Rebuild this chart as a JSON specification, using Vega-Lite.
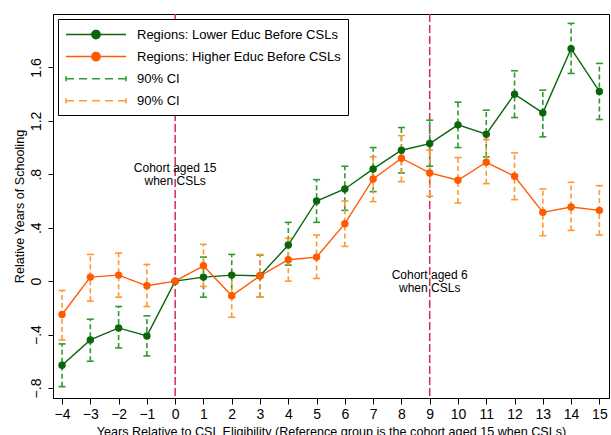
{
  "$schema": "https://vega.github.io/schema/vega-lite/v6.json",
  "width": 556,
  "height": 384,
  "autosize": {"type": "none"},
  "padding": {"left": 53, "top": 14, "right": 2, "bottom": 37},
  "background": "white",
  "config": {
    "font": "Liberation Sans",
    "view": {"stroke": "black", "strokeWidth": 1},
    "axis": {"grid": false, "domainColor": "black", "tickColor": "black", "labelColor": "black", "titleColor": "black", "titleFontWeight": "normal", "labelFontSize": 14, "titleFontSize": 12.6, "labelFlush": false, "labelOverlap": false}
  },
  "datasets": {
    "est": [
      {"x": -4, "series": "L", "est": -0.63, "lo": -0.79, "hi": -0.47},
      {"x": -3, "series": "L", "est": -0.44, "lo": -0.60, "hi": -0.285},
      {"x": -2, "series": "L", "est": -0.35, "lo": -0.50, "hi": -0.19},
      {"x": -1, "series": "L", "est": -0.41, "lo": -0.56, "hi": -0.26},
      {"x": 0, "series": "L", "est": 0, "lo": null, "hi": null},
      {"x": 1, "series": "L", "est": 0.03, "lo": -0.12, "hi": 0.18},
      {"x": 2, "series": "L", "est": 0.045, "lo": -0.12, "hi": 0.20},
      {"x": 3, "series": "L", "est": 0.04, "lo": -0.12, "hi": 0.195},
      {"x": 4, "series": "L", "est": 0.27, "lo": 0.12, "hi": 0.44},
      {"x": 5, "series": "L", "est": 0.60, "lo": 0.44, "hi": 0.76},
      {"x": 6, "series": "L", "est": 0.69, "lo": 0.53, "hi": 0.86},
      {"x": 7, "series": "L", "est": 0.84, "lo": 0.67, "hi": 1.00},
      {"x": 8, "series": "L", "est": 0.98, "lo": 0.81, "hi": 1.15},
      {"x": 9, "series": "L", "est": 1.03, "lo": 0.86, "hi": 1.205},
      {"x": 10, "series": "L", "est": 1.17, "lo": 1.00, "hi": 1.34},
      {"x": 11, "series": "L", "est": 1.10, "lo": 0.93, "hi": 1.28},
      {"x": 12, "series": "L", "est": 1.40, "lo": 1.225, "hi": 1.575},
      {"x": 13, "series": "L", "est": 1.26, "lo": 1.08, "hi": 1.43},
      {"x": 14, "series": "L", "est": 1.74, "lo": 1.555, "hi": 1.93},
      {"x": 15, "series": "L", "est": 1.42, "lo": 1.21, "hi": 1.63},
      {"x": -4, "series": "H", "est": -0.25, "lo": -0.44, "hi": -0.07},
      {"x": -3, "series": "H", "est": 0.03, "lo": -0.15, "hi": 0.20},
      {"x": -2, "series": "H", "est": 0.045, "lo": -0.12, "hi": 0.21},
      {"x": -1, "series": "H", "est": -0.035, "lo": -0.19, "hi": 0.125},
      {"x": 0, "series": "H", "est": 0, "lo": null, "hi": null},
      {"x": 1, "series": "H", "est": 0.115, "lo": -0.04, "hi": 0.275},
      {"x": 2, "series": "H", "est": -0.11, "lo": -0.27, "hi": 0.05},
      {"x": 3, "series": "H", "est": 0.04, "lo": -0.12, "hi": 0.20},
      {"x": 4, "series": "H", "est": 0.16, "lo": 0.0, "hi": 0.32},
      {"x": 5, "series": "H", "est": 0.18, "lo": 0.02, "hi": 0.345},
      {"x": 6, "series": "H", "est": 0.43, "lo": 0.26, "hi": 0.60},
      {"x": 7, "series": "H", "est": 0.765, "lo": 0.595, "hi": 0.93},
      {"x": 8, "series": "H", "est": 0.92, "lo": 0.745, "hi": 1.09},
      {"x": 9, "series": "H", "est": 0.81, "lo": 0.635, "hi": 0.98},
      {"x": 10, "series": "H", "est": 0.755, "lo": 0.585, "hi": 0.925},
      {"x": 11, "series": "H", "est": 0.89, "lo": 0.73, "hi": 1.06},
      {"x": 12, "series": "H", "est": 0.785, "lo": 0.61, "hi": 0.96},
      {"x": 13, "series": "H", "est": 0.515, "lo": 0.34, "hi": 0.69},
      {"x": 14, "series": "H", "est": 0.555, "lo": 0.38, "hi": 0.74},
      {"x": 15, "series": "H", "est": 0.53, "lo": 0.345, "hi": 0.715}
    ],
    "notes": [
      {"at": 0, "level": 0.8, "note": "Cohort aged 15|when CSLs"},
      {"at": 9, "level": 0.0, "note": "Cohort aged 6|when CSLs"}
    ]
  },
  "data": {"name": "est"},
  "encoding": {
    "x": {
      "field": "x", "type": "quantitative",
      "scale": {"domain": [-4.32, 15.34], "nice": false, "zero": false},
      "axis": {"values": [-4,-3,-2,-1,0,1,2,3,4,5,6,7,8,9,10,11,12,13,14,15], "format": "d", "tickSize": 6, "labelPadding": 3, "titlePadding": 4},
      "title": "Years Relative to CSL Eligibility (Reference group is the cohort aged 15 when CSLs)"
    },
    "color": {
      "field": "series", "type": "nominal",
      "scale": {"domain": ["L", "H", "LCI", "HCI"], "range": ["#0b650b", "#ff5a00", "#2f9a2f", "#ff9933"]},
      "legend": {
        "title": null,
        "orient": "top-left",
        "offset": 5,
        "padding": 7,
        "rowPadding": 6.1,
        "labelOffset": 55,
        "labelFontSize": 13,
        "labelColor": "black",
        "labelLimit": 0,
        "strokeColor": "black",
        "fillColor": "white",
        "symbolSize": 225,
        "labelExpr": "datum.value == 'L' ? 'Regions: Lower Educ Before CSLs' : datum.value == 'H' ? 'Regions: Higher Educ Before CSLs' : '90% CI'",
        "encode": {
          "symbols": {
            "update": {
              "shape": {"signal": "datum.value == 'L' || datum.value == 'H' ? 'M-1,0L7,0M3.55,0A0.55,0.55,0,1,1,2.45,0A0.55,0.55,0,1,1,3.55,0Z' : 'M-1,-0.35L-1,0.35M-1,0L7,0M7,-0.35L7,0.35'"},
              "size": {"value": 225},
              "stroke": {"signal": "scale('color', datum.value)"},
              "fill": {"signal": "datum.value == 'L' || datum.value == 'H' ? scale('color', datum.value) : 'transparent'"},
              "strokeDash": {"signal": "datum.value == 'L' || datum.value == 'H' ? [1, 0] : [8, 5]"},
              "strokeWidth": {"value": 1.5},
              "opacity": {"value": 1}
            }
          }
        }
      }
    }
  },
  "layer": [
    {
      "data": {"values": [{"x": 0}, {"x": 9}]},
      "mark": {"type": "rule", "strokeDash": [8, 3], "strokeWidth": 1.5},
      "encoding": {"color": {"value": "#d42a5a"}}
    },
    {
      "transform": [{"filter": "datum.series == 'L' && isValid(datum.lo)"}],
      "encoding": {"color": {"datum": "LCI"}},
      "layer": [
        {"mark": {"type": "rule", "strokeDash": [5, 3], "strokeWidth": 1.6},
         "encoding": {"y": {"field": "lo", "type": "quantitative", "scale": {"domain": [-0.875, 2.0], "nice": false, "zero": false}}, "y2": {"field": "hi"}}},
        {"mark": {"type": "tick", "orient": "horizontal", "size": 7, "thickness": 1.6, "opacity": 1},
         "encoding": {"y": {"field": "lo", "type": "quantitative"}}},
        {"mark": {"type": "tick", "orient": "horizontal", "size": 7, "thickness": 1.6, "opacity": 1},
         "encoding": {"y": {"field": "hi", "type": "quantitative"}}}
      ]
    },
    {
      "transform": [{"filter": "datum.series == 'H' && isValid(datum.lo)"}],
      "encoding": {"color": {"datum": "HCI"}},
      "layer": [
        {"mark": {"type": "rule", "strokeDash": [5, 3], "strokeWidth": 1.6},
         "encoding": {"y": {"field": "lo", "type": "quantitative"}, "y2": {"field": "hi"}}},
        {"mark": {"type": "tick", "orient": "horizontal", "size": 7, "thickness": 1.6, "opacity": 1},
         "encoding": {"y": {"field": "lo", "type": "quantitative"}}},
        {"mark": {"type": "tick", "orient": "horizontal", "size": 7, "thickness": 1.6, "opacity": 1},
         "encoding": {"y": {"field": "hi", "type": "quantitative"}}}
      ]
    },
    {
      "mark": {"type": "line", "strokeWidth": 1.4, "point": {"filled": true, "size": 55, "opacity": 1}},
      "encoding": {
        "y": {
          "field": "est", "type": "quantitative",
          "scale": {"domain": [-0.875, 2.0], "nice": false, "zero": false},
          "axis": {"values": [-0.8, -0.4, 0, 0.4, 0.8, 1.2, 1.6], "labelExpr": "datum.value == 0 ? '0' : replace(format(datum.value, '.1f'), '0.', '.')", "labelAngle": -90, "labelAlign": "center", "labelBaseline": "bottom", "tickSize": 5, "labelPadding": 5, "titlePadding": 3},
          "title": "Relative Years of Schooling"
        }
      }
    },
    {
      "data": {"name": "notes"},
      "mark": {"type": "text", "fontSize": 12, "lineHeight": 13, "baseline": "middle", "align": "center", "lineBreak": "|", "dy": -6.5},
      "encoding": {
        "x": {"field": "at", "type": "quantitative"},
        "y": {"field": "level", "type": "quantitative"},
        "text": {"field": "note", "type": "nominal"},
        "color": {"value": "black"}
      }
    }
  ]
}
